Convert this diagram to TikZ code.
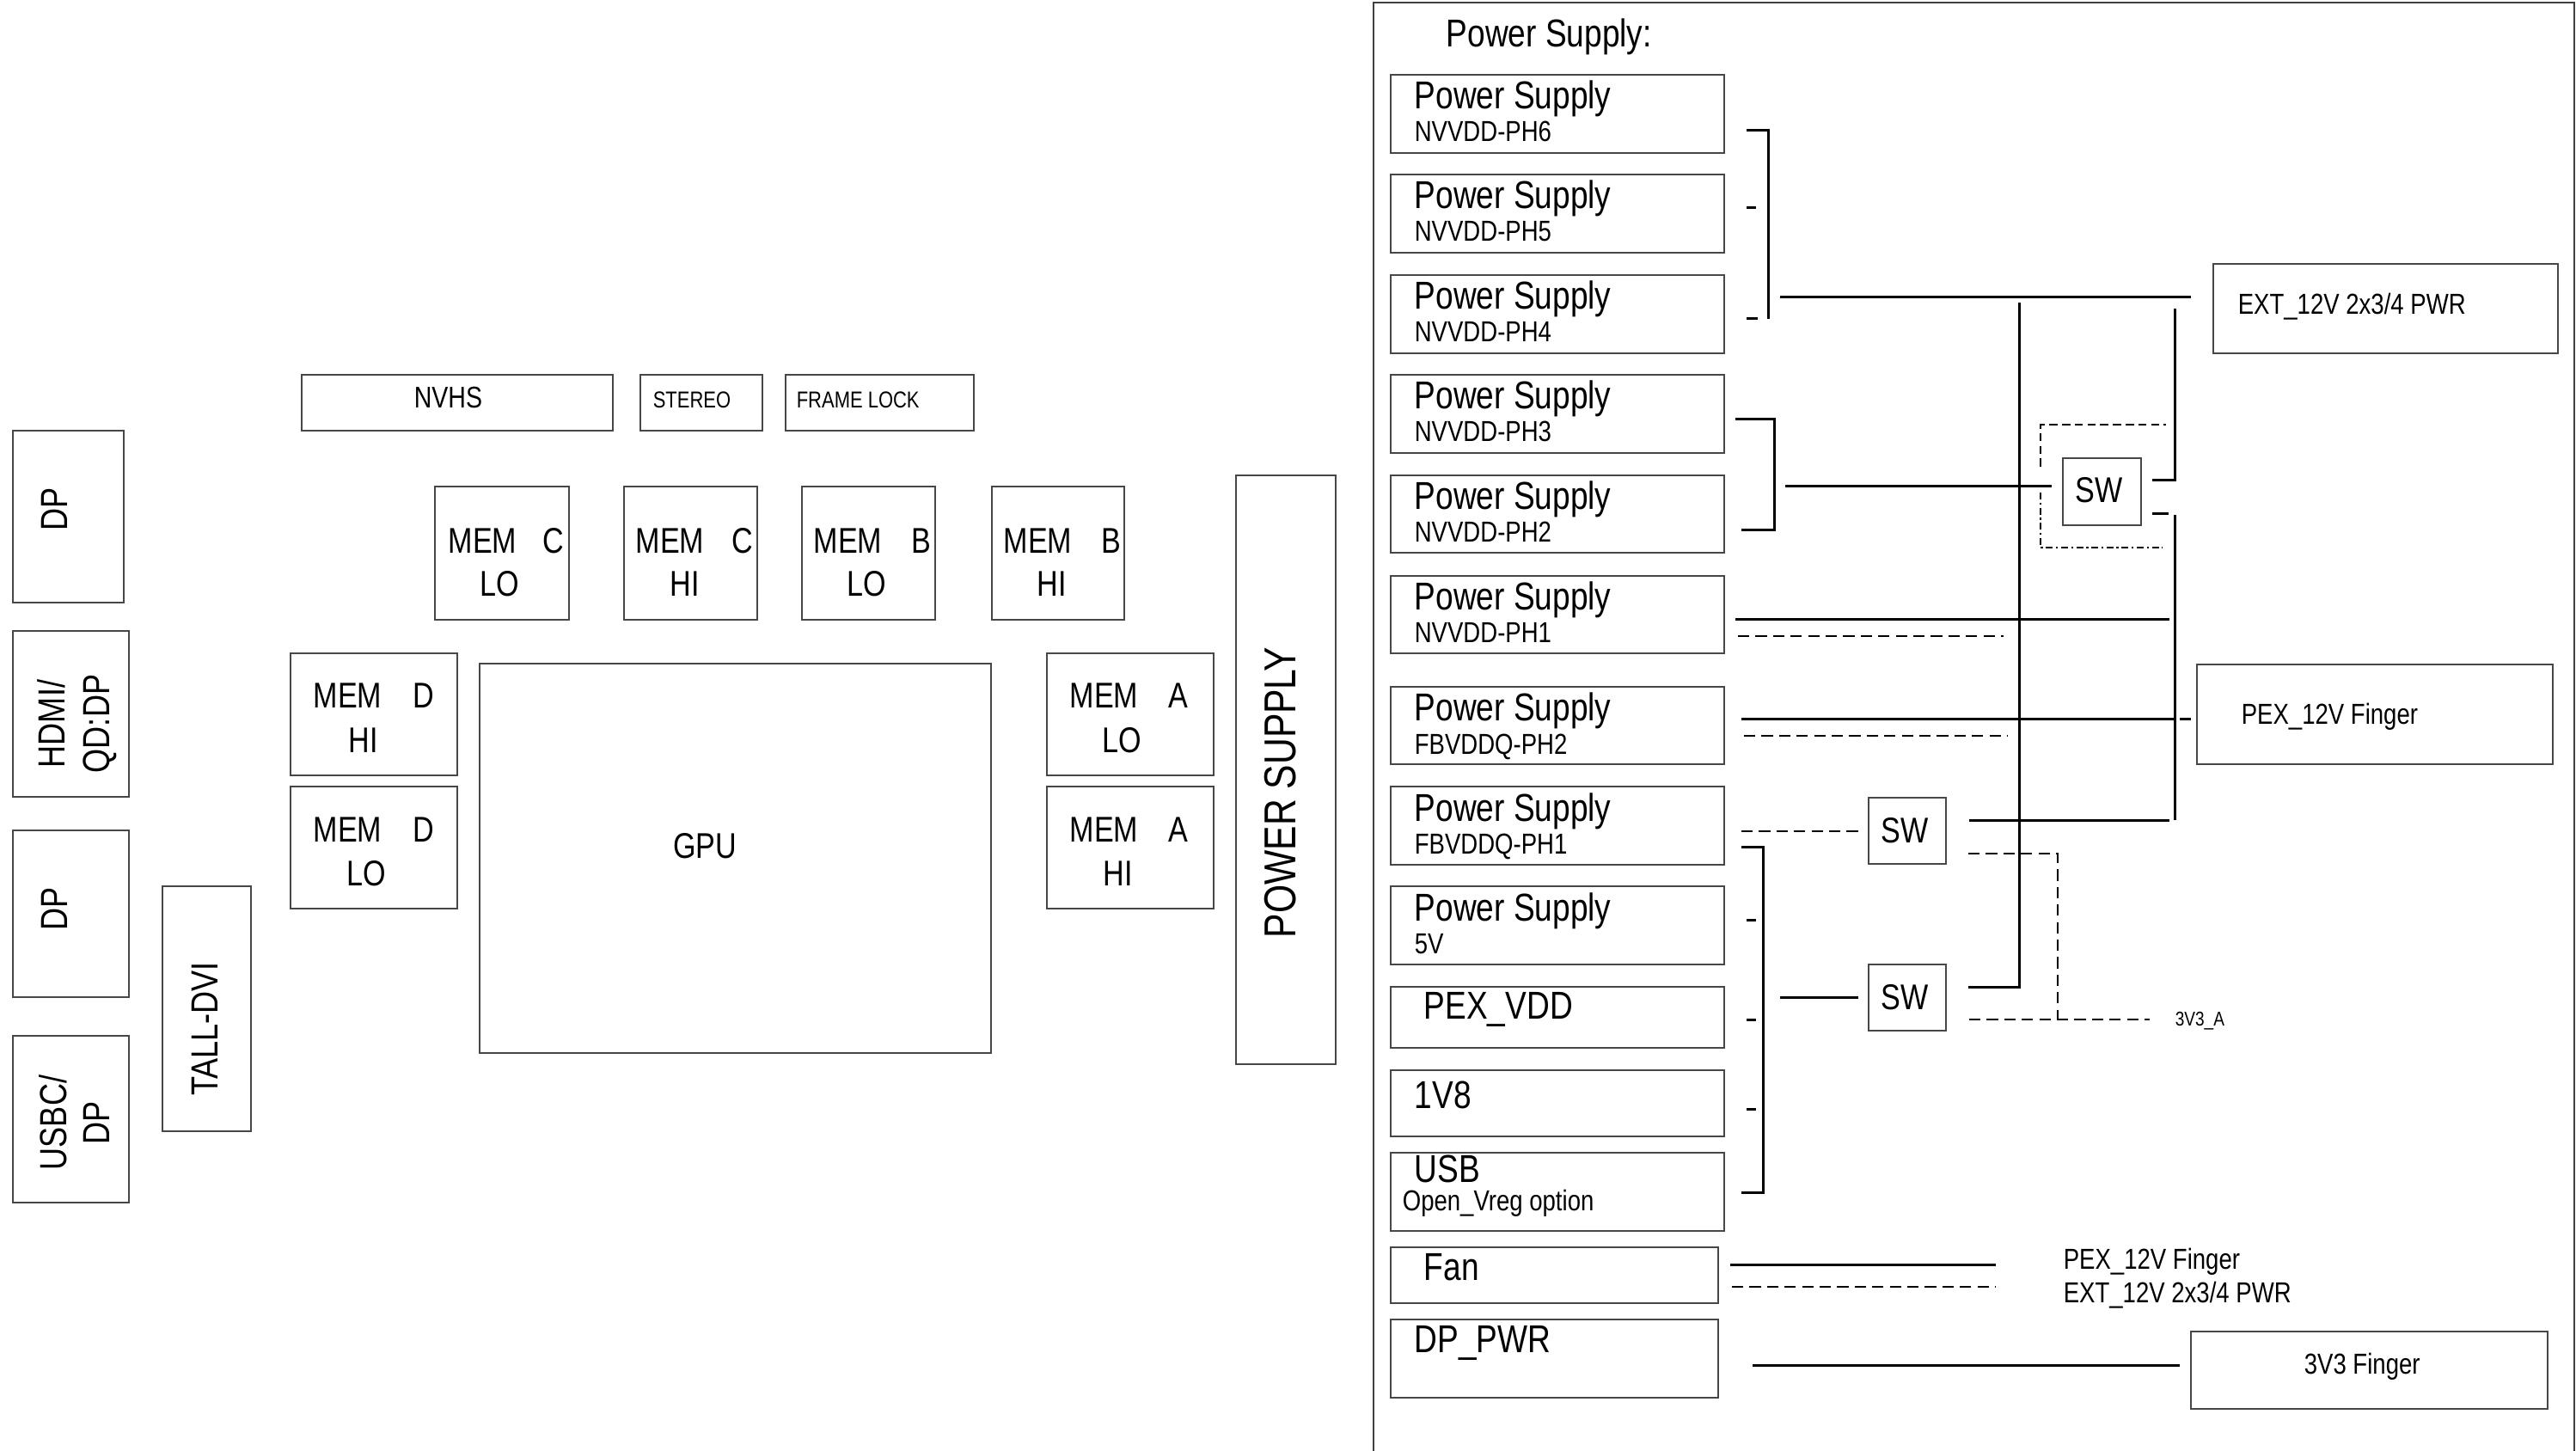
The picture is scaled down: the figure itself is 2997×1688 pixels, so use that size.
\documentclass[tikz,border=0pt]{standalone}
\usepackage{fontspec}
\setmainfont[FakeStretch=0.82]{Liberation Sans}
\usetikzlibrary{fit}
\newcommand\fsz[1]{\fontsize{#1}{#1}\selectfont}
\tikzset{
  box/.style={draw=black!72, line width=0.55pt, inner sep=0pt, fit={#1}},
  wire/.style={line width=0.75pt, line cap=butt},
  dsh/.style={line width=0.65pt, dash pattern=on 3.3pt off 1.8pt},
  fdash/.style={line width=0.6pt, dash pattern=on 2.4pt off 1.3pt},
  fdot/.style={line width=0.6pt, dash pattern=on 2pt off 0.9pt on 0.6pt off 0.9pt},
  lbl/.style={inner sep=0pt, anchor=base west},
  big/.style={font=\fsz{11.3}},
  small/.style={font=\fsz{8.4}},
  memf/.style={font=\fsz{10.4}},
  rot/.style={inner sep=0pt, rotate=90, anchor=center, align=center}
}
\begin{document}
\begin{tikzpicture}[x=0.25pt,y=-0.25pt]
\useasboundingbox (0,0) rectangle (2997,1688);
% ---------------- left board ----------------
\node[box={(351,436)(713,501)}] (nvhs) {};
\node[lbl, font=\fsz{8.7}] (nvhs-t) at (481,475) {NVHS};
\node[box={(745,436)(887,501)}] (stereo) {};
\node[lbl, font=\fsz{6.7}] (stereo-t) at (759,475) {STEREO};
\node[box={(914,436)(1133,501)}] (flock) {};
\node[lbl, font=\fsz{6.7}] (flock-t) at (926,475) {FRAME LOCK};

\node[box={(15,501)(144,701)}] (dp1) {};
\node[rot, font=\fsz{11}] (dp1-t) at (63,592) {DP};
\node[box={(15,734)(150,927)}] (hdmi) {};
\node[rot, font=\fontsize{11}{13}\selectfont] (hdmi-t) at (90,842) {HDMI/\\QD:DP};
\node[box={(15,966)(150,1160)}] (dp2) {};
\node[rot, font=\fsz{11}] (dp2-t) at (63,1057) {DP};
\node[box={(15,1205)(150,1399)}] (usbc) {};
\node[rot, font=\fontsize{11}{12.5}\selectfont] (usbc-t) at (87,1306) {USBC/\\DP};
\node[box={(189,1031)(292,1316)}] (dvi) {};
\node[rot, font=\fsz{11}] (dvi-t) at (238,1197) {TALL-DVI};

% memory
\node[box={(506,566)(662,721)}] (mcl) {};
\node[lbl, memf] (mcl-a) at (521,644) {MEM};
\node[lbl, memf, anchor=base east] (mcl-b) at (657,644) {C};
\node[lbl, memf, anchor=base] (mcl-c) at (581,694) {LO};
\node[box={(726,566)(881,721)}] (mch) {};
\node[lbl, memf] (mch-a) at (739,644) {MEM};
\node[lbl, memf, anchor=base east] (mch-b) at (877,644) {C};
\node[lbl, memf, anchor=base] (mch-c) at (797,694) {HI};
\node[box={(933,566)(1088,721)}] (mbl) {};
\node[lbl, memf] (mbl-a) at (946,644) {MEM};
\node[lbl, memf, anchor=base east] (mbl-b) at (1084,644) {B};
\node[lbl, memf, anchor=base] (mbl-c) at (1008,694) {LO};
\node[box={(1154,566)(1308,721)}] (mbh) {};
\node[lbl, memf] (mbh-a) at (1167,644) {MEM};
\node[lbl, memf, anchor=base east] (mbh-b) at (1305,644) {B};
\node[lbl, memf, anchor=base] (mbh-c) at (1224,694) {HI};
\node[box={(338,760)(532,902)}] (mdh) {};
\node[lbl, memf] (mdh-a) at (364,824) {MEM};
\node[lbl, memf, anchor=base east] (mdh-b) at (506,824) {D};
\node[lbl, memf, anchor=base] (mdh-c) at (423,875) {HI};
\node[box={(338,915)(532,1057)}] (mdl) {};
\node[lbl, memf] (mdl-a) at (364,979) {MEM};
\node[lbl, memf, anchor=base east] (mdl-b) at (506,979) {D};
\node[lbl, memf, anchor=base] (mdl-c) at (426,1030) {LO};
\node[box={(1218,760)(1412,902)}] (mal) {};
\node[lbl, memf] (mal-a) at (1244,824) {MEM};
\node[lbl, memf, anchor=base east] (mal-b) at (1383,824) {A};
\node[lbl, memf, anchor=base] (mal-c) at (1305,875) {LO};
\node[box={(1218,915)(1412,1057)}] (mah) {};
\node[lbl, memf] (mah-a) at (1244,979) {MEM};
\node[lbl, memf, anchor=base east] (mah-b) at (1383,979) {A};
\node[lbl, memf, anchor=base] (mah-c) at (1301,1030) {HI};

\node[box={(558,772)(1153,1225)}] (gpu) {};
\node[lbl, memf, anchor=base] (gpu-t) at (820,998) {GPU};

\node[box={(1438,553)(1554,1238)}] (psu) {};
\node[rot, font=\fsz{13}] (psu-t) at (1490,922) {POWER SUPPLY};

% ---------------- right panel ----------------
\coordinate (fr-bl) at (1598,1688);
\coordinate (fr-tl) at (1598,3);
\coordinate (fr-tr) at (2995,3);
\coordinate (fr-br) at (2995,1688);
\draw[line width=0.6pt, black!75] (fr-bl) -- (fr-tl) -- (fr-tr) -- (fr-br);
\node[lbl, big] (hdr) at (1682,55) {Power Supply:};

\foreach \n/\t/\b/\s in {ph6/87/178/NVVDD-PH6, ph5/203/294/NVVDD-PH5,
   ph4/320/411/NVVDD-PH4, ph3/436/527/NVVDD-PH3, ph2/553/643/NVVDD-PH2,
   ph1/670/760/NVVDD-PH1, fb2/799/889/FBVDDQ-PH2, fb1/915/1006/FBVDDQ-PH1,
   v5/1031/1122/5V} {
  \node[box={(1618,\t)(2006,\b)}] (\n) {};
  \node[lbl, big] (\n-a) at (1645,{\t+40}) {Power Supply};
  \node[lbl, small] (\n-b) at (1645,{\t+78}) {\s};
}
\node[box={(1618,1148)(2006,1219)}] (pexvdd) {};
\node[lbl, big] (pexvdd-t) at (1656,1185) {PEX\_VDD};
\node[box={(1618,1245)(2006,1322)}] (v18) {};
\node[lbl, big] (v18-t) at (1645,1289) {1V8};
\node[box={(1618,1341)(2006,1432)}] (usb) {};
\node[lbl, big] (usb-t) at (1645,1375) {USB};
\node[lbl, small] (usb-s) at (1631,1408) {Open\_Vreg option};
\node[box={(1618,1451)(1999,1516)}] (fan) {};
\node[lbl, big] (fan-t) at (1656,1489) {Fan};
\node[box={(1618,1535)(1999,1626)}] (dppwr) {};
\node[lbl, big] (dppwr-t) at (1645,1573) {DP\_PWR};

\node[box={(2575,307)(2976,411)}] (ext) {};
\node[lbl, small] (ext-t) at (2603,366) {EXT\_12V 2x3/4 PWR};
\node[box={(2556,773)(2970,889)}] (pex) {};
\node[lbl, small] (pex-t) at (2607,843) {PEX\_12V Finger};
\node[box={(2549,1549)(2964,1639)}] (f33) {};
\node[lbl, small] (f33-t) at (2680,1598) {3V3 Finger};

\node[box={(2400,533)(2491,611)}] (sw1) {};
\node[lbl, memf] (sw1-t) at (2414,585) {SW};
\node[box={(2174,928)(2264,1005)}] (sw3) {};
\node[lbl, memf] (sw3-t) at (2188,980) {SW};
\node[box={(2174,1122)(2264,1199)}] (sw2) {};
\node[lbl, memf] (sw2-t) at (2188,1174) {SW};

\node[lbl, small] (lab-pex) at (2400,1476) {PEX\_12V Finger};
\node[lbl, small] (lab-ext) at (2400,1515) {EXT\_12V 2x3/4 PWR};
\node[lbl, font=\fsz{5.8}] (lab-3v3a) at (2530,1193) {3V3\_A};

% bracket PH6..PH4
\coordinate (b1-a) at (2032,152); \coordinate (b1-b) at (2057,152);
\coordinate (b1-c) at (2057,371);
\draw[wire] (b1-a) -- (b1-b) -- (b1-c);
\draw[wire] (2032,242) coordinate (t5a) -- (2043,242) coordinate (t5b);
\draw[wire] (2032,371) coordinate (t4a) -- (2045,371) coordinate (t4b);
\coordinate (e-a) at (2071,346); \coordinate (e-b) at (2549,346);
\draw[wire] (e-a) -- (e-b);

% bracket PH3..PH2
\coordinate (b2-a) at (2019,488); \coordinate (b2-b) at (2064,488);
\coordinate (b2-c) at (2064,617); \coordinate (b2-d) at (2026,617);
\draw[wire] (b2-a) -- (b2-b) -- (b2-c) -- (b2-d);
\coordinate (s1-in) at (2077,566); \coordinate (s1-inb) at (2387,566);
\draw[wire] (s1-in) -- (s1-inb);
% frame round SW1
\draw[fdash] (2374,543) coordinate (fr1) -- (2374,494) coordinate (fr2) -- (2520,494) coordinate (fr3);
\draw[fdot] (2374,573) coordinate (fr4) -- (2374,637) coordinate (fr5) -- (2516,637) coordinate (fr6);
% SW1 outputs
\coordinate (o1-a) at (2504,559); \coordinate (o1-b) at (2530,559); \coordinate (o1-c) at (2530,359);
\draw[wire] (o1-a) -- (o1-b) -- (o1-c);
\draw[wire] (2504,598) coordinate (o2-a) -- (2523,598) coordinate (o2-b);
\coordinate (bv-a) at (2530,599); \coordinate (bv-b) at (2530,954);
\draw[wire] (bv-a) -- (bv-b);
% line A
\coordinate (la-a) at (2349,352); \coordinate (la-b) at (2349,1148); \coordinate (la-c) at (2290,1148);
\draw[wire] (la-a) -- (la-b) -- (la-c);
% PH1
\draw[wire] (2019,721) coordinate (p1-a) -- (2524,721) coordinate (p1-b);
\draw[dsh] (2022,740) coordinate (p1-c) -- (2331,740) coordinate (p1-d);
% FB PH2
\draw[wire] (2026,837) coordinate (f2-a) -- (2530,837) coordinate (f2-b);
\draw[wire] (2536,837) coordinate (f2-c) -- (2549,837) coordinate (f2-d);
\draw[dsh] (2029,856) coordinate (f2-e) -- (2336,856) coordinate (f2-f);
% FB PH1 -> SW3
\draw[dsh] (2026,967) coordinate (f1-a) -- (2162,967) coordinate (f1-b);
\draw[wire] (2291,954) coordinate (s3-a) -- (2524,954) coordinate (s3-b);
\draw[dsh] (2290,993) coordinate (s3-c) -- (2394,993) coordinate (s3-d) -- (2394,1186) coordinate (s3-e);
% bracket FB PH1 .. USB
\coordinate (b3-a) at (2026,985); \coordinate (b3-b) at (2051,985);
\coordinate (b3-c) at (2051,1387); \coordinate (b3-d) at (2026,1387);
\draw[wire] (b3-a) -- (b3-b) -- (b3-c) -- (b3-d);
\foreach \yy in {1070,1186,1290} { \draw[wire] (2032,\yy) -- (2043,\yy); }
\draw[wire] (2071,1160) coordinate (s2-in) -- (2162,1160) coordinate (s2-inb);
\draw[dsh] (2291,1186) coordinate (s2-c) -- (2501,1186) coordinate (s2-d);
% Fan
\draw[wire] (2013,1471) coordinate (fa-a) -- (2322,1471) coordinate (fa-b);
\draw[dsh] (2015,1497) coordinate (fa-c) -- (2322,1497) coordinate (fa-d);
% DP_PWR
\draw[wire] (2039,1588) coordinate (dpw-a) -- (2536,1588) coordinate (dpw-b);
\end{tikzpicture}
\end{document}
